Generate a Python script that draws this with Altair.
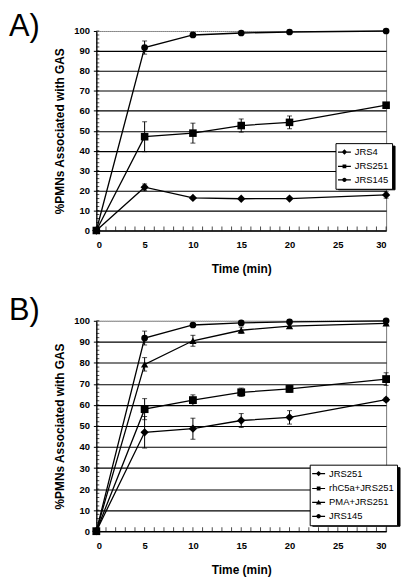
import altair as alt
import pandas as pd

time = [0, 5, 10, 15, 20, 30]
x_tick_labels = [0, 5, 10, 15, 20, 25, 30]
y_tick_labels = [0, 10, 20, 30, 40, 50, 60, 70, 80, 90, 100]
x_minor_ticks = list(range(0, 31))
y_minor_ticks = list(range(0, 101, 2))

# Panel A
a_series = ["JRS4", "JRS251", "JRS145"]
a_jrs4 = [0, 21.7, 16.3, 15.9, 16.0, 17.8]
a_jrs4_err = [0, 1.6, 0, 0, 0, 1.6]
a_jrs251 = [0, 47.0, 48.8, 52.6, 54.2, 62.8]
a_jrs251_err = [0, 7.5, 5.0, 3.3, 3.2, 1.0]
a_jrs145 = [0, 91.7, 98.0, 99.0, 99.5, 100.0]
a_jrs145_err = [0, 3.3, 0, 0, 0, 0]

# Panel B
b_series = ["JRS251", "rhC5a+JRS251", "PMA+JRS251", "JRS145"]
b_jrs251 = [0, 47.0, 48.7, 52.6, 54.1, 62.5]
b_jrs251_err = [0, 7.5, 5.0, 3.3, 3.2, 0.8]
b_rhc5a = [0, 58.0, 62.3, 66.0, 67.6, 72.3]
b_rhc5a_err = [0, 5.0, 2.5, 2.0, 1.5, 3.0]
b_pma = [0, 79.3, 90.5, 95.5, 97.5, 98.8]
b_pma_err = [0, 3.2, 2.6, 1.5, 1.0, 0.6]
b_jrs145 = [0, 91.8, 98.0, 99.0, 99.5, 100.0]
b_jrs145_err = [0, 3.3, 0.5, 0.5, 0.4, 0.3]

FONT = "Liberation Sans"
W = 292
LABEL_SIZE = 9.5
LABEL_OFFSET = 4.5

# Arial / Liberation Sans advance widths (per 1000 em) for the legend label glyphs
ADV = {"J": 500, "R": 722, "S": 667, "r": 333, "h": 556, "C": 722, "a": 556,
       "+": 584, "P": 667, "M": 833, "A": 667}


def text_width(s):
    return sum(ADV.get(c, 556) for c in s) * LABEL_SIZE / 1000.0


SHAPE = {"diamond": "diamond", "square": "square", "triangle": "triangle-up", "circle": "circle"}
SIZE = {"diamond": 70, "square": 46, "triangle": 60, "circle": 60}
BAR = "M-1.3,-0.12L1.3,-0.12L1.3,0.12L-1.3,0.12Z"
LEGEND_PATH = {
    "diamond": BAR + "M0,-0.55L0.55,0L0,0.55L-0.55,0Z",
    "square": BAR + "M-0.38,-0.38L0.38,-0.38L0.38,0.38L-0.38,0.38Z",
    "triangle": BAR + "M0,-0.55L0.55,0.4L-0.55,0.4Z",
    "circle": BAR + "M0.45,0A0.45,0.45,0,1,1,-0.45,0A0.45,0.45,0,1,1,0.45,0Z",
}


def legend_style(x, y, row_pad, shadow, series):
    style = dict(
        title=None, orient="none", legendX=x, legendY=y,
        strokeColor="black", fillColor="black" if shadow else "white", padding=3,
        labelFont=FONT, labelFontSize=LABEL_SIZE, labelColor="black",
        labelOffset=LABEL_OFFSET, symbolSize=100, rowPadding=row_pad,
        symbolFillColor="black", symbolOpacity=1, zindex=0 if shadow else 1)
    if shadow:
        style["labelExpr"] = "''"
        style["labelOffset"] = LABEL_OFFSET + max(text_width(s) for s in series)
    return style


def panel(series, values, errors, kinds, height, label, legend_x, legend_y, row_pad, tag_y):
    rows = []
    for s, vals, errs in zip(series, values, errors):
        for t, v, e in zip(time, vals, errs):
            rows.append({"series": s, "time": t, "value": v, "err": e,
                         "lo": v - e, "hi": v + e})
    df = pd.DataFrame(rows)
    base = alt.Chart(df)
    xs = alt.Scale(domain=[0, 30], nice=False, zero=False)
    ys = alt.Scale(domain=[0, 100], nice=False)

    x_main = alt.X("time:Q", scale=xs, axis=alt.Axis(
        title="Time (min)", values=x_tick_labels, ticks=False, grid=False,
        domainColor="black", domainWidth=1.2, labelPadding=9, titlePadding=15,
        labelFont=FONT, labelFontSize=9.5, labelFontWeight="bold", labelColor="black",
        titleFont=FONT, titleFontSize=12, titleFontWeight="bold", titleColor="black"))
    y_main = alt.Y("value:Q", scale=ys, axis=alt.Axis(
        title="%PMNs Associated with GAS", values=y_tick_labels, grid=True,
        gridColor=alt.condition("datum.value == 100", alt.value("#aaaaaa"), alt.value("black")),
        gridDash=alt.condition("datum.value == 100", alt.value([1, 1]), alt.value([])),
        gridWidth=1.1, tickSize=3, tickColor="black", domainColor="black", domainWidth=1.2,
        labelPadding=4, titlePadding=7,
        labelFont=FONT, labelFontSize=9.5, labelFontWeight="bold", labelColor="black",
        titleFont=FONT, titleFontSize=12, titleFontWeight="bold", titleColor="black"))

    lines = base.mark_line(color="black", strokeWidth=1.3).encode(
        x=x_main, y=y_main, detail="series:N")

    xn = alt.X("time:Q", scale=xs, axis=None)
    yn = alt.Y("value:Q", scale=ys, axis=None)

    y_minor = alt.Chart(pd.DataFrame({"v": y_minor_ticks, "x0": 0})).mark_tick(
        color="black", orient="horizontal", size=3, thickness=1, xOffset=1.5).encode(
        y=alt.Y("v:Q", scale=ys, axis=None), x=alt.X("x0:Q", scale=xs, axis=None))
    x_minor = alt.Chart(pd.DataFrame({"t": x_minor_ticks, "y0": 0})).mark_tick(
        color="black", orient="vertical", size=4, thickness=1, yOffset=-2).encode(
        x=alt.X("t:Q", scale=xs, axis=None), y=alt.Y("y0:Q", scale=ys, axis=None))

    points = base.mark_point(filled=True, color="black", opacity=1).encode(
        x=xn, y=yn,
        shape=alt.Shape("series:N", scale=alt.Scale(domain=series, range=[SHAPE[k] for k in kinds]), legend=None),
        size=alt.Size("series:N", scale=alt.Scale(domain=series, range=[SIZE[k] for k in kinds]), legend=None),
    )

    bars = base.transform_filter("datum.err > 0").mark_rule(color="black", strokeWidth=1).encode(
        x=xn, y=alt.Y("lo:Q", scale=ys, axis=None), y2="hi:Q")
    caps = base.transform_filter("datum.err > 0").transform_fold(
        ["lo", "hi"], as_=["end", "yv"]).mark_tick(
        color="black", orient="horizontal", size=5, thickness=1).encode(
        x=xn, y=alt.Y("yv:Q", scale=ys, axis=None))

    legend_layer = base.transform_filter("false").mark_point(
        filled=True, color="black", opacity=1).encode(
        shape=alt.Shape("series:N", scale=alt.Scale(domain=series, range=[LEGEND_PATH[k] for k in kinds]),
                        legend=alt.Legend(**legend_style(legend_x, legend_y, row_pad, False, series))))

    shadow_layer = base.transform_filter("false").mark_point(
        filled=True, opacity=1, shape="square").encode(
        color=alt.Color("series:N", scale=alt.Scale(domain=series, range=["black"] * len(series)),
                        legend=alt.Legend(**legend_style(legend_x + 2.5, legend_y + 2.5, row_pad, True, series))))

    tag = alt.Chart(pd.DataFrame({"label": [label]})).mark_text(
        font=FONT, fontSize=31, align="left", baseline="alphabetic", color="black").encode(
        text="label:N", x=alt.value(-88), y=alt.value(tag_y))

    return alt.layer(lines, y_minor, x_minor, bars, caps, points, shadow_layer, legend_layer, tag).resolve_scale(
        shape="independent", size="independent").resolve_axis(
        x="independent", y="independent").properties(width=W, height=height)


chart_a = panel(a_series, [a_jrs4, a_jrs251, a_jrs145],
                [a_jrs4_err, a_jrs251_err, a_jrs145_err],
                ["diamond", "square", "circle"], 201, "A)", 241, 113, 2.5, 5)
chart_b = panel(b_series, [b_jrs251, b_rhc5a, b_pma, b_jrs145],
                [b_jrs251_err, b_rhc5a_err, b_pma_err, b_jrs145_err],
                ["diamond", "square", "triangle", "circle"], 212, "B)", 215, 145, 3, -1)

chart = alt.vconcat(chart_a, chart_b, spacing=19).resolve_scale(
    shape="independent", size="independent", color="independent").properties(
    padding=0).configure_view(stroke="#777777", strokeWidth=1)

chart.save("out.html", embed_options={"renderer": "svg", "actions": False})
